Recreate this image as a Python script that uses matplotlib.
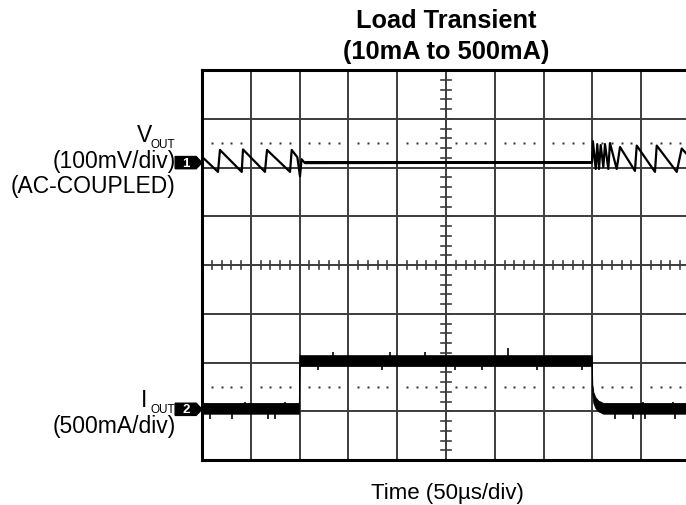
import matplotlib
matplotlib.use("Agg")
import matplotlib.pyplot as plt
import numpy as np
from matplotlib.patches import Polygon

plt.rcParams["font.family"] = ["Liberation Sans", "DejaVu Sans"]

# Screen: 10 x 8 divisions, 50us/div horizontally
T_DIV = 50.0
N_X, N_Y = 10, 8
CH1_GND = 6.1    # channel 1 marker (div)
CH2_GND = 1.04   # channel 2 marker (div)
V_SCALE = 100.0  # mV/div
I_SCALE = 500.0  # mA/div

# Channel 1: VOUT ripple (mV, AC-coupled), vertices
vout_t = [0, 16.4, 18.4, 40.7, 42.0, 64.5, 66.6, 90.2, 91.9, 97.7, 100.4,
          102.0, 105.5, 399.6, 400.5, 403.4, 405.0, 406.8, 408.5, 411.2,
          412.9, 416.3, 418.0, 424.9, 428.3, 443.6, 445.4, 464.1, 465.9,
          486.4, 491.5, 500]
vout_mv = [12, -19, 26, -19, 27, -19, 26, -19, 26, 11, -28,
           7, -1, 0, 44, -13, 38, -13, 36, -9,
           38, -13, 40, -13, 32, -17, 35, -19, 35,
           -19, 29, 10]
# steady (heavy load) stretch of VOUT, drawn as a thin noise band
vout_steady_t = [105.5, 399.6]
vout_band_mv = 3.5

# Channel 2: IOUT (mA)
iout_t = [0, 99.2, 99.8, 399.3, 399.9, 401, 403, 406, 411, 500]
iout_ma = [10, 10, 500, 500, 200, 120, 70, 35, 10, 10]
iout_band_ma = 55
# noise spikes (time in us, peak mA)
spike_t = [8.2, 30.4, 44, 67.6, 74.8, 85, 118.9, 134, 184, 192.6, 228.5,
           259, 286.6, 313.5, 343, 389, 423, 441.6, 452, 454, 482.6, 484.6]
spike_ma = [-97, -97, 77, -97, -97, 77, 408, 592, 408, 592, 592,
            408, 408, 630, 408, 408, -97, -97, 77, -97, 77, -97]

fig = plt.figure(figsize=(6.86, 5.06), dpi=100)
ax = fig.add_axes([202 / 686, 45 / 506, 488 / 686, 390 / 506])
ax.set_xlim(0, N_X * T_DIV)
ax.set_ylim(0, N_Y)
ax.set_xticks([])
ax.set_yticks([])
for s in ax.spines.values():
    s.set_linewidth(2.2)
    s.set_color("black")

grid_c = "#3c3c3c"
for i in range(1, N_X):
    ax.axvline(i * T_DIV, color=grid_c, lw=1.4, zorder=1)
for j in range(1, N_Y):
    ax.axhline(j, color=grid_c, lw=1.4, zorder=1)

# minor ticks on the centre cross
xc, yc = N_X / 2 * T_DIV, N_Y / 2
for k in range(N_X * 5 + 1):
    x = k * T_DIV / 5
    ax.plot([x, x], [yc - 0.09, yc + 0.09], color=grid_c, lw=1.2, zorder=1)
for k in range(N_Y * 5 + 1):
    y = k / 5
    ax.plot([xc - 0.1 * T_DIV, xc + 0.1 * T_DIV], [y, y], color=grid_c,
            lw=1.2, zorder=1)

# dotted reference lines
dot_x = [k * T_DIV / 5 for k in range(N_X * 5) if k % 5]
for yd in (6.5, 1.5):
    ax.plot(dot_x, [yd] * len(dot_x), ls="none", marker="s", ms=1.5,
            mec="none", color="#333333", zorder=1)

# channel 1 trace
v_y = CH1_GND + np.array(vout_mv) / V_SCALE
ax.plot(vout_t, v_y, color="black", lw=1.6, zorder=3)
ax.fill_between(vout_steady_t,
                CH1_GND - vout_band_mv / V_SCALE,
                CH1_GND + vout_band_mv / V_SCALE,
                color="black", lw=0, zorder=3)

# channel 2 trace
i_y = CH2_GND + np.array(iout_ma) / I_SCALE
ax.fill_between(iout_t, i_y - iout_band_ma / I_SCALE,
                i_y + iout_band_ma / I_SCALE, color="black", lw=0.6,
                edgecolor="black", zorder=3)
base = np.interp(spike_t, iout_t, iout_ma)
ax.vlines(spike_t, CH2_GND + base / I_SCALE,
          CH2_GND + np.array(spike_ma) / I_SCALE, color="black", lw=1.2,
          zorder=3)

# channel markers
def marker(y, label):
    h = 0.125
    poly = Polygon([(-0.55 * T_DIV, y - h), (-0.12 * T_DIV, y - h),
                    (0.0, y), (-0.12 * T_DIV, y + h),
                    (-0.55 * T_DIV, y + h)], closed=True,
                   color="black", clip_on=False, zorder=5)
    ax.add_patch(poly)
    ax.text(-0.33 * T_DIV, y, label, color="white", fontsize=9.5,
            fontweight="bold", ha="center", va="center", clip_on=False,
            zorder=6)

marker(CH1_GND, "1")
marker(CH2_GND, "2")

W, H = 686, 506
def ftext(x, y, s, **kw):
    fig.text(x / W, 1 - y / H, s, **kw)

ftext(446, 28.3, "Load Transient", ha="center", va="baseline",
      fontsize=18.3, fontweight="bold")
ftext(446, 59.3, "(10mA to 500mA)", ha="center", va="baseline",
      fontsize=18.3, fontweight="bold")
ftext(447.5, 499.3, "Time (50µs/div)", ha="center", va="baseline",
      fontsize=16)

ftext(152.5, 141.7, "V", ha="right", va="baseline", fontsize=16.5)
ftext(175, 148.3, "OUT", ha="right", va="baseline", fontsize=8.5)
ftext(175.5, 168, "(100mV/div)", ha="right", va="baseline", fontsize=16.5)
ftext(175.5, 193.5, "(AC-COUPLED)", ha="right", va="baseline", fontsize=16.5)

ftext(147.5, 407.3, "I", ha="right", va="baseline", fontsize=16.5)
ftext(175, 413.5, "OUT", ha="right", va="baseline", fontsize=8.5)
ftext(175.5, 433.3, "(500mA/div)", ha="right", va="baseline", fontsize=16.5)

fig.savefig("out.png", dpi=100)
